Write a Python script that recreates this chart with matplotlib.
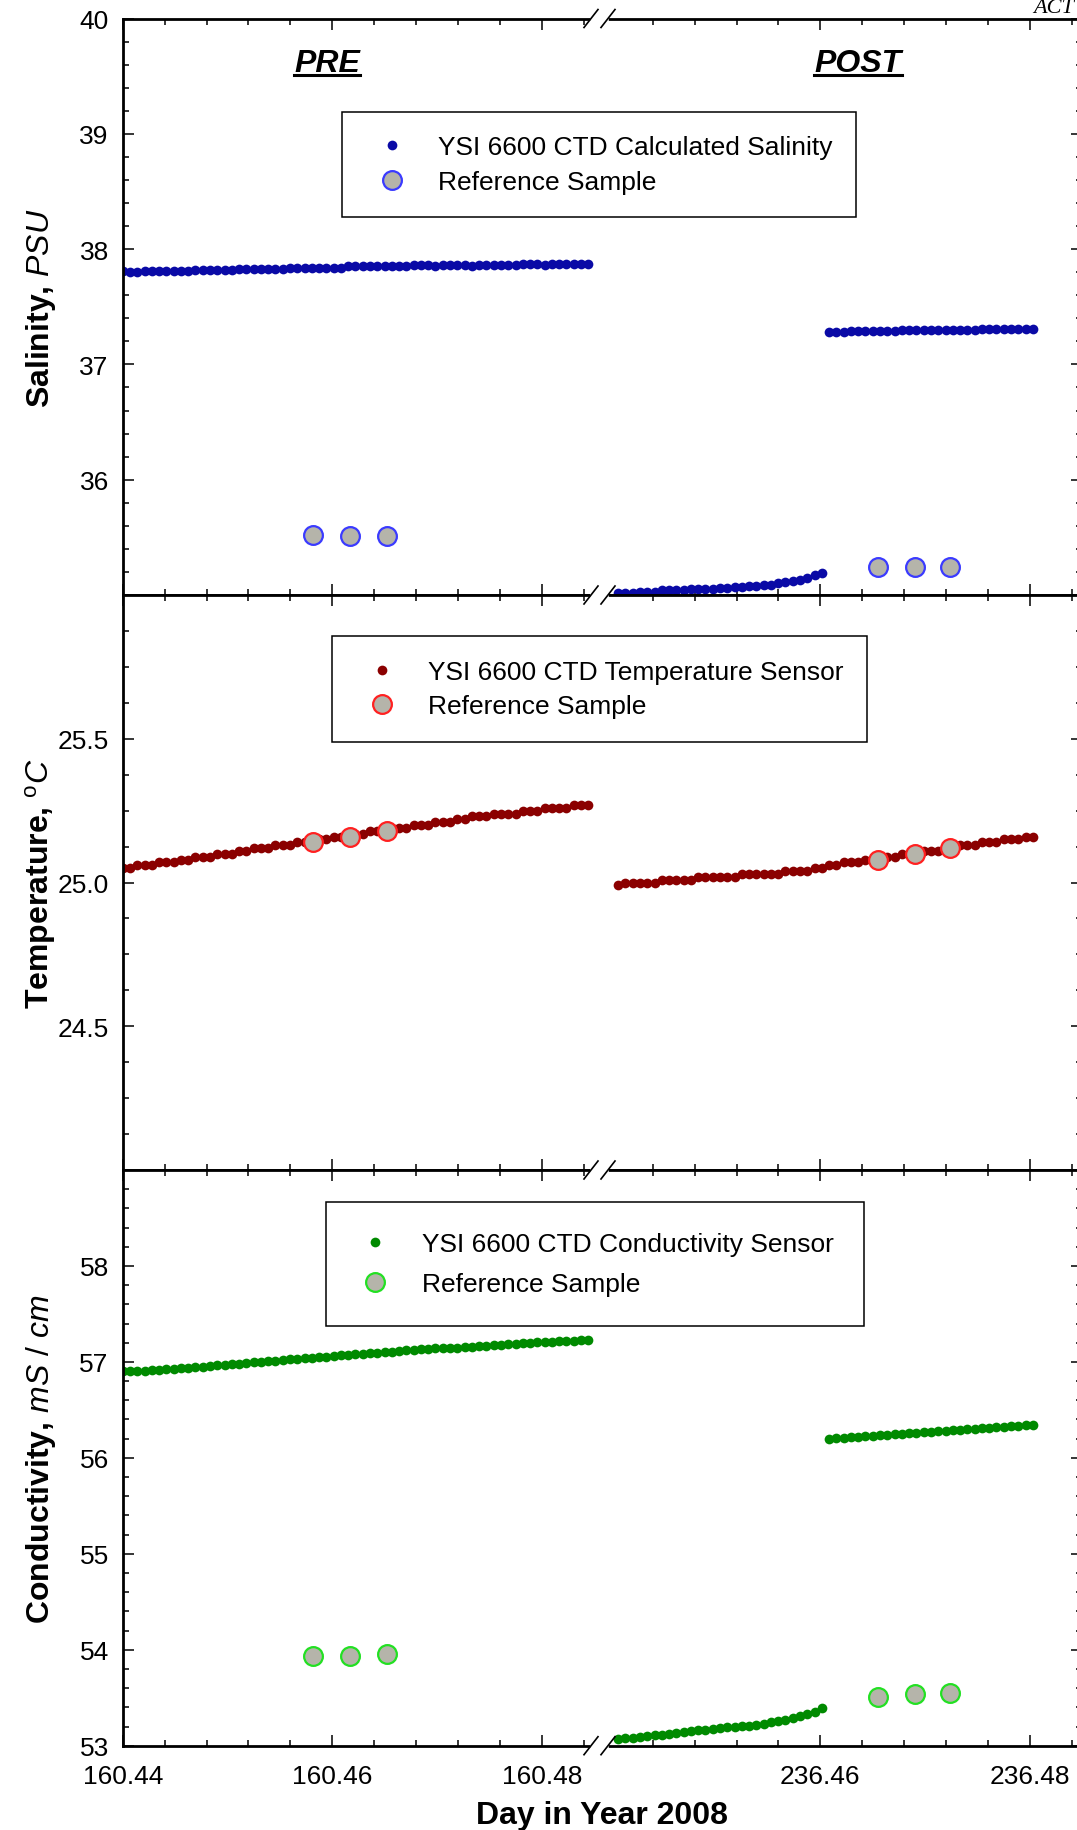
# -*- coding: utf-8 -*-
# YSI 6600 CTD - comparacao PRE / POST com amostras de referencia

import numpy as np
import matplotlib
matplotlib.use('Agg')
import matplotlib.pyplot as plt
from matplotlib.lines import Line2D
from matplotlib.ticker import FixedLocator, MultipleLocator

plt.rcParams['font.family'] = ['Liberation Sans', 'DejaVu Sans']
plt.rcParams['mathtext.fontset'] = 'custom'
plt.rcParams['mathtext.rm'] = 'Liberation Sans'
plt.rcParams['mathtext.it'] = 'Liberation Sans:italic'
plt.rcParams['mathtext.bf'] = 'Liberation Sans:bold'

# tempo (dia do ano), leituras a cada 1 minuto
t_pre0 = 160.44
t_post0 = 236.4407
dt = 1.0 / 1440

# Salinidade (PSU)
sal_pre = [37.81, 37.80, 37.80, 37.81, 37.81, 37.81, 37.81, 37.81, 37.81, 37.81,
           37.82, 37.82, 37.82, 37.82, 37.82, 37.82, 37.83, 37.83, 37.83, 37.83,
           37.83, 37.83, 37.83, 37.84, 37.84, 37.84, 37.84, 37.84, 37.84, 37.84,
           37.84, 37.85, 37.85, 37.85, 37.85, 37.85, 37.85, 37.85, 37.85, 37.85,
           37.86, 37.86, 37.86, 37.85, 37.86, 37.86, 37.86, 37.86, 37.85, 37.86,
           37.86, 37.86, 37.86, 37.86, 37.86, 37.87, 37.87, 37.87, 37.86, 37.87,
           37.87, 37.87, 37.87, 37.87, 37.87]
sal_post_a = [35.02, 35.02, 35.02, 35.03, 35.03, 35.03, 35.04, 35.04, 35.04, 35.04,
              35.05, 35.05, 35.05, 35.05, 35.06, 35.06, 35.07, 35.07, 35.08, 35.08,
              35.09, 35.09, 35.10, 35.11, 35.12, 35.13, 35.15, 35.17, 35.19]
sal_post_b = [37.28, 37.28, 37.28, 37.29, 37.29, 37.29, 37.29, 37.29, 37.29, 37.29,
              37.30, 37.30, 37.30, 37.30, 37.30, 37.30, 37.30, 37.30, 37.30, 37.30,
              37.30, 37.31, 37.31, 37.31, 37.31, 37.31, 37.31, 37.31, 37.31]

# Temperatura (C)
temp_pre = [25.05, 25.05, 25.06, 25.06, 25.06, 25.07, 25.07, 25.07, 25.08, 25.08,
            25.09, 25.09, 25.09, 25.10, 25.10, 25.10, 25.11, 25.11, 25.12, 25.12,
            25.12, 25.13, 25.13, 25.13, 25.14, 25.14, 25.14, 25.15, 25.15, 25.16,
            25.16, 25.16, 25.17, 25.17, 25.18, 25.18, 25.18, 25.19, 25.19, 25.19,
            25.20, 25.20, 25.20, 25.21, 25.21, 25.21, 25.22, 25.22, 25.23, 25.23,
            25.23, 25.24, 25.24, 25.24, 25.24, 25.25, 25.25, 25.25, 25.26, 25.26,
            25.26, 25.26, 25.27, 25.27, 25.27]
temp_post = [24.99, 25.00, 25.00, 25.00, 25.00, 25.00, 25.01, 25.01, 25.01, 25.01,
             25.01, 25.02, 25.02, 25.02, 25.02, 25.02, 25.02, 25.03, 25.03, 25.03,
             25.03, 25.03, 25.03, 25.04, 25.04, 25.04, 25.04, 25.05, 25.05, 25.06,
             25.06, 25.07, 25.07, 25.07, 25.08, 25.08, 25.08, 25.09, 25.09, 25.10,
             25.10, 25.10, 25.11, 25.11, 25.11, 25.12, 25.12, 25.13, 25.13, 25.13,
             25.14, 25.14, 25.14, 25.15, 25.15, 25.15, 25.16, 25.16]

# Condutividade (mS/cm)
cond_pre = [56.90, 56.90, 56.91, 56.91, 56.92, 56.92, 56.93, 56.93, 56.94, 56.94,
            56.95, 56.95, 56.96, 56.97, 56.97, 56.98, 56.98, 56.99, 57.00, 57.00,
            57.01, 57.01, 57.02, 57.03, 57.03, 57.04, 57.04, 57.05, 57.05, 57.06,
            57.07, 57.07, 57.08, 57.08, 57.09, 57.09, 57.10, 57.10, 57.11, 57.12,
            57.12, 57.13, 57.13, 57.14, 57.14, 57.15, 57.15, 57.16, 57.16, 57.17,
            57.17, 57.18, 57.18, 57.19, 57.19, 57.20, 57.20, 57.21, 57.21, 57.21,
            57.22, 57.22, 57.22, 57.23, 57.23]
cond_post_a = [53.07, 53.08, 53.08, 53.09, 53.10, 53.11, 53.11, 53.12, 53.13, 53.14,
               53.15, 53.16, 53.16, 53.17, 53.18, 53.19, 53.20, 53.21, 53.21, 53.22,
               53.23, 53.25, 53.26, 53.27, 53.29, 53.31, 53.33, 53.35, 53.39]
cond_post_b = [56.20, 56.21, 56.21, 56.22, 56.22, 56.23, 56.23, 56.24, 56.24, 56.25,
               56.25, 56.26, 56.26, 56.27, 56.27, 56.28, 56.28, 56.29, 56.29, 56.30,
               56.30, 56.31, 56.31, 56.32, 56.32, 56.33, 56.33, 56.34, 56.34]

# Amostras de referencia
ref_t_pre = [160.4582, 160.4617, 160.4652]
ref_t_post = [236.4655, 236.4690, 236.4724]
ref_sal_pre = [35.52, 35.51, 35.51]
ref_sal_post = [35.24, 35.24, 35.24]
ref_temp_pre = [25.14, 25.16, 25.18]
ref_temp_post = [25.08, 25.10, 25.12]
ref_cond_pre = [53.94, 53.94, 53.96]
ref_cond_post = [53.51, 53.54, 53.55]

# eixo quebrado: POST deslocado para ficar logo depois do PRE
desloc = 75.9534

t_pre = t_pre0 + np.arange(len(sal_pre)) * dt
t_post = t_post0 + np.arange(len(temp_post)) * dt - desloc
n_a = len(sal_post_a)
rt_pre = np.array(ref_t_pre)
rt_post = np.array(ref_t_post) - desloc

W, H = 1077, 1831
fig = plt.figure(figsize=(W / 100, H / 100), dpi=100, facecolor='white')

def fx(px):
    return px / W

def fy(py):
    return 1 - py / H

esq, dir_ = 122.7, 1082
topos = [19.5, 596, 1171]
bases = [596, 1171, 1746.7]
axs = []
for tp, bs in zip(topos, bases):
    axs.append(fig.add_axes([fx(esq), fy(bs), (dir_ - esq) / W, (bs - tp) / H]))
ax1, ax2, ax3 = axs

cinza = '#b5b4aa'
ms_dado = 7.0
ms_ref = 13.5

# Salinidade
ax1.plot(t_pre, sal_pre, 'o', color='#0a0aa6', ms=ms_dado, mew=0,
         label='YSI 6600 CTD Calculated Salinity')
ax1.plot(t_post[:n_a], sal_post_a, 'o', color='#0a0aa6', ms=ms_dado, mew=0)
ax1.plot(t_post[n_a:], sal_post_b, 'o', color='#0a0aa6', ms=ms_dado, mew=0)
ax1.plot(rt_pre, ref_sal_pre, 'o', mfc=cinza, mec='#3a3aff', ms=ms_ref, mew=1.6,
         label='Reference Sample', zorder=5)
ax1.plot(rt_post, ref_sal_post, 'o', mfc=cinza, mec='#3a3aff', ms=ms_ref, mew=1.6, zorder=5)

# Temperatura
ax2.plot(t_pre, temp_pre, 'o', color='#8b0000', ms=ms_dado, mew=0,
         label='YSI 6600 CTD Temperature Sensor')
ax2.plot(t_post, temp_post, 'o', color='#8b0000', ms=ms_dado, mew=0)
ax2.plot(rt_pre, ref_temp_pre, 'o', mfc=cinza, mec='#ff2020', ms=ms_ref, mew=1.6,
         label='Reference Sample', zorder=5)
ax2.plot(rt_post, ref_temp_post, 'o', mfc=cinza, mec='#ff2020', ms=ms_ref, mew=1.6, zorder=5)

# Condutividade
ax3.plot(t_pre, cond_pre, 'o', color='#008a00', ms=ms_dado, mew=0,
         label='YSI 6600 CTD Conductivity Sensor')
ax3.plot(t_post[:n_a], cond_post_a, 'o', color='#008a00', ms=ms_dado, mew=0)
ax3.plot(t_post[n_a:], cond_post_b, 'o', color='#008a00', ms=ms_dado, mew=0)
ax3.plot(rt_pre, ref_cond_pre, 'o', mfc=cinza, mec='#22e022', ms=ms_ref, mew=1.6,
         label='Reference Sample', zorder=5)
ax3.plot(rt_post, ref_cond_post, 'o', mfc=cinza, mec='#22e022', ms=ms_ref, mew=1.6, zorder=5)

# eixo x
xmaj = [160.44, 160.46, 160.48, 236.46 - desloc, 236.48 - desloc]
xlab = ['160.44', '160.46', '160.48', '236.46', '236.48']
xmin = list(160.44 + np.arange(1, 12) * 0.004) + list(236.444 + np.arange(0, 11) * 0.004 - desloc)
xlim = (160.44, 160.44 + (dir_ - esq) / 10475)

for ax in axs:
    ax.set_xlim(*xlim)
    ax.xaxis.set_major_locator(FixedLocator(xmaj))
    ax.xaxis.set_minor_locator(FixedLocator(xmin))
    ax.set_xticklabels(xlab)
    ax.tick_params(which='both', direction='in', top=True, right=True, width=1.1,
                   labelsize=19, colors='black')
    ax.tick_params(which='major', length=7.8)
    ax.tick_params(which='minor', length=4.2)
    ax.tick_params(axis='x', pad=13)
    ax.tick_params(axis='y', pad=10)
    for s in ax.spines.values():
        s.set_linewidth(2.0)
    ax.yaxis.set_label_coords((58 - esq) / (dir_ - esq), 0.5)

ax1.tick_params(labelbottom=False)
ax2.tick_params(labelbottom=False)

ax1.set_ylim(35, 40)
ax1.set_yticks([36, 37, 38, 39, 40])
ax1.yaxis.set_minor_locator(MultipleLocator(0.2))
ax1.set_ylabel('Salinity, $\\mathit{PSU}$', fontsize=23, fontweight='bold')

ax2.set_ylim(24, 26)
ax2.set_yticks([24.5, 25.0, 25.5])
ax2.set_yticklabels(['24.5', '25.0', '25.5'])
ax2.yaxis.set_minor_locator(MultipleLocator(0.125))
ax2.set_ylabel('Temperature, $^{\\mathrm{o}}\\mathit{C}$', fontsize=23, fontweight='bold')

ax3.set_ylim(53, 59)
ax3.set_yticks([53, 54, 55, 56, 57, 58])
ax3.yaxis.set_minor_locator(MultipleLocator(0.2))
ax3.set_ylabel('Conductivity, $\\mathit{mS\\ /\\ cm}$', fontsize=23, fontweight='bold')
ax3.set_xlabel('Day in Year 2008', fontsize=23, fontweight='bold', labelpad=8.5)

# legendas
leg_kw = dict(loc='upper left', fontsize=19, numpoints=1, fancybox=False, framealpha=1,
              edgecolor='black', borderaxespad=0)
l1 = ax1.legend(bbox_to_anchor=((342 - esq) / (dir_ - esq), (596 - 113) / 576.5),
                borderpad=0.88, labelspacing=0.40, handlelength=2.03, handletextpad=0.73, **leg_kw)
l2 = ax2.legend(bbox_to_anchor=((332 - esq) / (dir_ - esq), (1171 - 637) / 575),
                borderpad=0.9, labelspacing=0.40, handlelength=2.0, handletextpad=0.74, **leg_kw)
l3 = ax3.legend(bbox_to_anchor=((326 - esq) / (dir_ - esq), (1746.7 - 1203) / 575.7),
                borderpad=1.15, labelspacing=0.59, handlelength=1.41, handletextpad=1.08, **leg_kw)
for lg in (l1, l2, l3):
    lg.get_frame().set_linewidth(1.1)

# marcas de quebra do eixo x
for yq in [19.5, 596, 1171, 1746.7]:
    fig.add_artist(Line2D([fx(593), fx(606)], [fy(yq), fy(yq)], color='white', lw=4, zorder=10))
    for cx in (591, 608):
        fig.add_artist(Line2D([fx(cx - 7), fx(cx + 7)], [fy(yq + 9), fy(yq - 9)],
                              color='black', lw=1.2, zorder=11))

# PRE / POST sublinhados
t1 = fig.text(fx(327), fy(72), 'PRE', ha='center', va='baseline', fontsize=23,
              fontweight='bold', fontstyle='italic')
t2 = fig.text(fx(858), fy(72), 'POST', ha='center', va='baseline', fontsize=23,
              fontweight='bold', fontstyle='italic')
fig.text(fx(1033), fy(13), 'ACT', ha='left', va='baseline', fontsize=16,
         fontstyle='italic', family=['Liberation Serif', 'DejaVu Serif'])

fig.canvas.draw()
r = fig.canvas.get_renderer()
for txt in (t1, t2):
    bb = txt.get_window_extent(r)
    fig.add_artist(Line2D([bb.x0 / W, bb.x1 / W], [fy(76), fy(76)], color='black', lw=2.2))

fig.savefig('out.png', dpi=100, facecolor='white')
